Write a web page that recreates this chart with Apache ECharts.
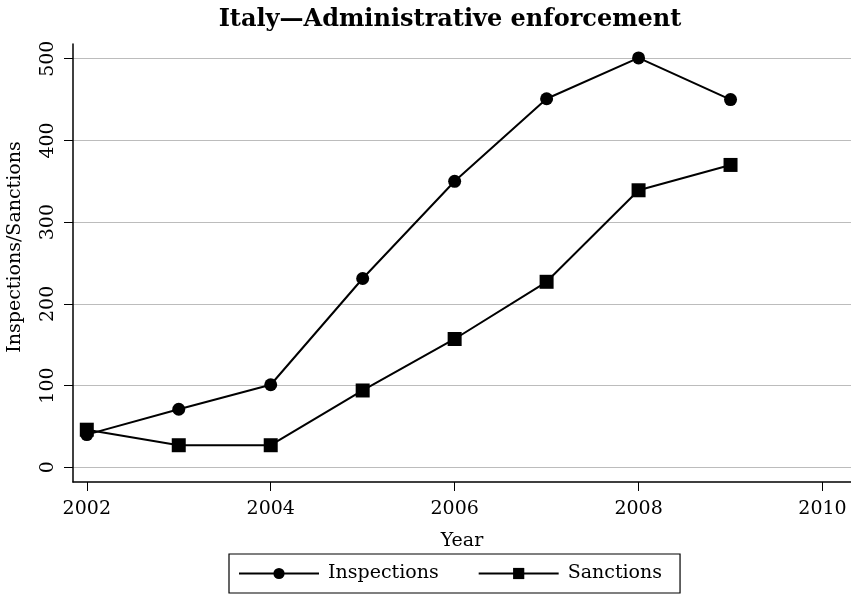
<!DOCTYPE html>
<html>
<head>
<meta charset="utf-8">
<title>Italy—Administrative enforcement</title>
<script src="https://cdn.jsdelivr.net/npm/echarts@6/dist/echarts.min.js"></script>
<style>
  html, body { margin: 0; padding: 0; background: #fff; }
  #chart { width: 851px; height: 595px; }
</style>
</head>
<body>
<div id="chart"></div>
<script>
// Yearly counts of administrative inspections and sanctions
const years = [2002, 2003, 2004, 2005, 2006, 2007, 2008, 2009];
const inspections = [40, 71, 101, 231, 350, 451, 501, 450];
const sanctions = [46, 27, 27, 94, 157, 227, 339, 370];
const xTicks = [2002, 2004, 2006, 2008, 2010];
const yTicks = [0, 100, 200, 300, 400, 500];

const FONT = '"DejaVu Serif", "Liberation Serif", serif';

function pairs(xs, ys) {
  return xs.map((x, i) => [x, ys[i]]);
}

const chart = echarts.init(document.getElementById('chart'), null, { renderer: 'canvas' });

const lineStyle = { color: '#000', width: 2 };
const itemStyle = { color: '#000' };

chart.setOption({
  animation: false,
  backgroundColor: '#fff',
  title: {
    text: 'Italy—Administrative enforcement',
    left: 445,
    top: 3,
    textAlign: 'center',
    textStyle: { fontFamily: FONT, fontWeight: 'bold', fontSize: 24, color: '#000' }
  },
  grid: { left: 73, right: 0, top: 44, bottom: 113, containLabel: false, outerBoundsMode: 'none' },
  xAxis: {
    type: 'value',
    min: 2001.85,
    max: 2010.31,
    name: 'Year',
    nameLocation: 'middle',
    nameGap: 50,
    nameTextStyle: { fontFamily: FONT, fontSize: 19, color: '#000' },
    axisLine: { show: true, onZero: false, lineStyle: { color: '#000', width: 1.5 } },
    axisTick: { show: true, length: 9, customValues: xTicks, lineStyle: { color: '#000', width: 1 } },
    axisLabel: {
      customValues: xTicks,
      margin: 18,
      fontFamily: FONT, fontSize: 19, color: '#000',
      formatter: v => String(v)
    },
    splitLine: { show: false }
  },
  yAxis: {
    type: 'value',
    min: -18,
    max: 518,
    name: 'Inspections/Sanctions',
    nameLocation: 'middle',
    nameGap: 48,
    nameTextStyle: { fontFamily: FONT, fontSize: 19, color: '#000', padding: [0, 0, 0, 32] },
    axisLine: { show: true, onZero: false, lineStyle: { color: '#000', width: 1.5 } },
    axisTick: { show: true, length: 9, customValues: yTicks, lineStyle: { color: '#000', width: 1 } },
    axisLabel: {
      customValues: yTicks,
      rotate: 90,
      margin: 15,
      fontFamily: FONT, fontSize: 19, color: '#000'
    },
    splitLine: { show: true, lineStyle: { color: '#bcbcbc', width: 1 } }
  },
  legend: {
    left: 229,
    top: 554,
    itemWidth: 80,
    itemHeight: 14,
    itemGap: 39,
    padding: [10, 18, 10, 9],
    borderColor: '#000',
    borderWidth: 1.2,
    textStyle: { fontFamily: FONT, fontSize: 19, color: '#000', padding: [0, 0, 0, 4] },
    data: ['Inspections', 'Sanctions']
  },
  series: [
    {
      name: 'Inspections',
      type: 'line',
      data: pairs(years, inspections),
      symbol: 'circle',
      symbolSize: 13,
      lineStyle: lineStyle,
      itemStyle: itemStyle
    },
    {
      name: 'Sanctions',
      type: 'line',
      data: pairs(years, sanctions),
      symbol: 'rect',
      symbolSize: 14,
      lineStyle: lineStyle,
      itemStyle: itemStyle
    }
  ]
});
</script>
</body>
</html>
